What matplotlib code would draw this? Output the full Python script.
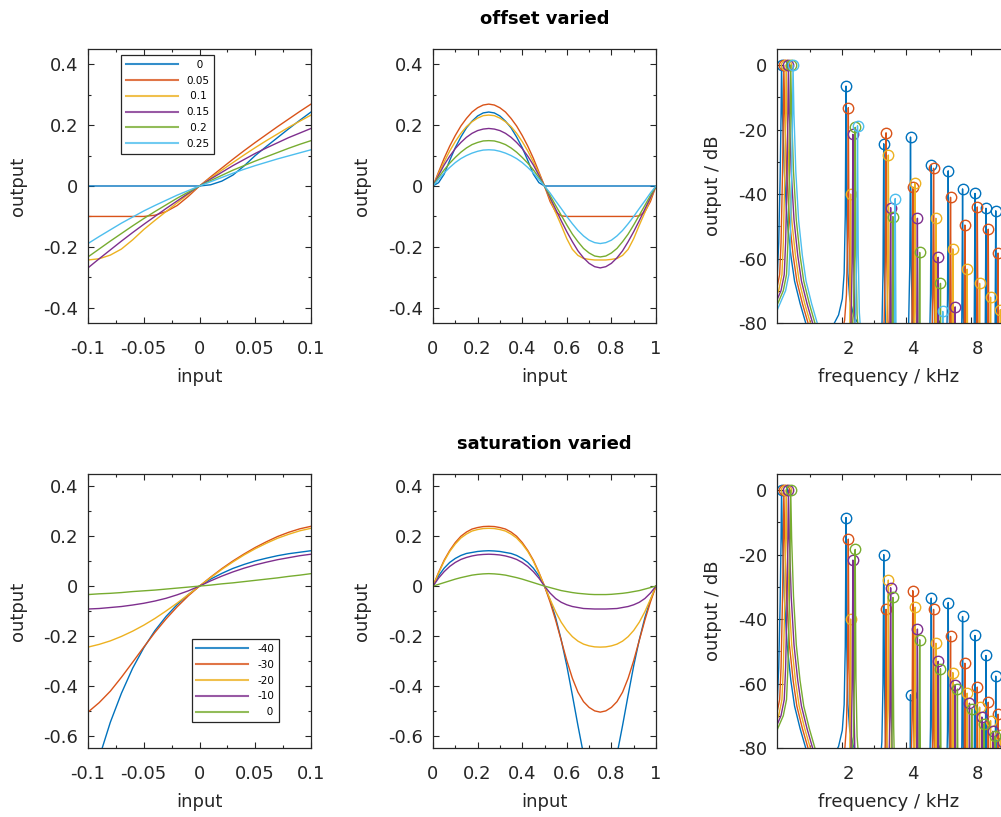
import numpy as np
import matplotlib.pyplot as plt
import matplotlib.transforms as mtransforms
from matplotlib.ticker import MultipleLocator, FixedLocator, NullFormatter, FuncFormatter

plt.rcParams['font.family'] = ['DejaVu Sans']
plt.rcParams['axes.unicode_minus'] = False

colors = ['#0072BD', '#D95319', '#EDB120', '#7E2F8E', '#77AC30', '#4DBEEE']

# transfer curves (input -> output)
x_in = [-0.10, -0.09, -0.08, -0.07, -0.06, -0.05, -0.04, -0.03, -0.02, -0.01, 0.0,
        0.01, 0.02, 0.03, 0.04, 0.05, 0.06, 0.07, 0.08, 0.09, 0.10]
# one period of the test signal
t_in = [0.0, 0.025, 0.05, 0.075, 0.10, 0.125, 0.15, 0.175, 0.20, 0.225, 0.25,
        0.275, 0.30, 0.325, 0.35, 0.375, 0.40, 0.425, 0.45, 0.475, 0.50,
        0.525, 0.55, 0.575, 0.60, 0.625, 0.65, 0.675, 0.70, 0.725, 0.75,
        0.775, 0.80, 0.825, 0.85, 0.875, 0.90, 0.925, 0.95, 0.975, 1.0]

offset_labels = ['0', '0.05', '0.1', '0.15', '0.2', '0.25']
offset_curves = [
    [0, 0, 0, 0, 0, 0, 0, 0, 0, 0, 0, 0.004, 0.016, 0.036, 0.066, 0.100, 0.130, 0.159, 0.188, 0.216, 0.243],
    [-0.1, -0.1, -0.1, -0.1, -0.1, -0.1, -0.096, -0.084, -0.064, -0.034, 0, 0.030, 0.059, 0.088, 0.116, 0.143, 0.169, 0.195, 0.220, 0.245, 0.269],
    [-0.243, -0.239, -0.227, -0.207, -0.177, -0.143, -0.113, -0.084, -0.055, -0.027, 0, 0.026, 0.052, 0.077, 0.102, 0.126, 0.149, 0.171, 0.193, 0.213, 0.233],
    [-0.269, -0.239, -0.210, -0.181, -0.153, -0.126, -0.100, -0.074, -0.049, -0.024, 0, 0.023, 0.045, 0.067, 0.087, 0.107, 0.125, 0.142, 0.159, 0.174, 0.189],
    [-0.233, -0.207, -0.181, -0.156, -0.131, -0.107, -0.084, -0.062, -0.040, -0.020, 0, 0.018, 0.035, 0.052, 0.067, 0.082, 0.096, 0.110, 0.124, 0.137, 0.149],
    [-0.189, -0.166, -0.144, -0.122, -0.102, -0.082, -0.064, -0.047, -0.030, -0.015, 0, 0.014, 0.028, 0.042, 0.055, 0.067, 0.078, 0.089, 0.099, 0.109, 0.119],
]
offset_waves = [
    [0, 0.011, 0.039, 0.084, 0.126, 0.161, 0.191, 0.213, 0.230, 0.240, 0.243, 0.240, 0.230, 0.213, 0.191, 0.161, 0.126, 0.084, 0.039, 0.011, 0,
     0, 0, 0, 0, 0, 0, 0, 0, 0, 0, 0, 0, 0, 0, 0, 0, 0, 0, 0, 0],
    [0, 0.046, 0.091, 0.131, 0.166, 0.197, 0.222, 0.243, 0.257, 0.266, 0.269, 0.266, 0.257, 0.243, 0.222, 0.197, 0.166, 0.131, 0.091, 0.046, 0,
     -0.051, -0.085, -0.098, -0.1, -0.1, -0.1, -0.1, -0.1, -0.1, -0.1, -0.1, -0.1, -0.1, -0.1, -0.1, -0.1, -0.098, -0.085, -0.051, 0],
    [0, 0.041, 0.079, 0.115, 0.146, 0.173, 0.195, 0.211, 0.223, 0.231, 0.233, 0.231, 0.223, 0.211, 0.195, 0.173, 0.146, 0.115, 0.079, 0.041, 0,
     -0.043, -0.087, -0.129, -0.173, -0.208, -0.228, -0.238, -0.241, -0.243, -0.243, -0.243, -0.241, -0.238, -0.228, -0.208, -0.173, -0.129, -0.087, -0.043, 0],
    [0, 0.035, 0.069, 0.098, 0.123, 0.143, 0.160, 0.173, 0.182, 0.187, 0.189, 0.187, 0.182, 0.173, 0.160, 0.143, 0.123, 0.098, 0.069, 0.035, 0,
     -0.038, -0.076, -0.114, -0.150, -0.183, -0.213, -0.236, -0.254, -0.265, -0.269, -0.265, -0.254, -0.236, -0.213, -0.183, -0.150, -0.114, -0.076, -0.038, 0],
    [0, 0.028, 0.053, 0.075, 0.094, 0.111, 0.125, 0.136, 0.143, 0.148, 0.149, 0.148, 0.143, 0.136, 0.125, 0.111, 0.094, 0.075, 0.053, 0.028, 0,
     -0.031, -0.064, -0.096, -0.128, -0.158, -0.183, -0.205, -0.220, -0.230, -0.233, -0.230, -0.220, -0.205, -0.183, -0.158, -0.128, -0.096, -0.064, -0.031, 0],
    [0, 0.022, 0.043, 0.061, 0.077, 0.090, 0.100, 0.108, 0.114, 0.118, 0.119, 0.118, 0.114, 0.108, 0.100, 0.090, 0.077, 0.061, 0.043, 0.022, 0,
     -0.023, -0.049, -0.074, -0.100, -0.124, -0.146, -0.164, -0.178, -0.186, -0.189, -0.186, -0.178, -0.164, -0.146, -0.124, -0.100, -0.074, -0.049, -0.023, 0],
]

sat_labels = ['-40', '-30', '-20', '-10', '0']
sat_curves = [
    [-0.858, -0.689, -0.547, -0.430, -0.330, -0.248, -0.179, -0.122, -0.074, -0.034, 0, 0.028, 0.051, 0.071, 0.087, 0.101, 0.112, 0.122, 0.130, 0.136, 0.142],
    [-0.506, -0.468, -0.422, -0.366, -0.306, -0.245, -0.186, -0.132, -0.083, -0.039, 0, 0.036, 0.070, 0.101, 0.129, 0.155, 0.178, 0.199, 0.216, 0.230, 0.240],
    [-0.245, -0.234, -0.220, -0.202, -0.181, -0.157, -0.130, -0.100, -0.068, -0.034, 0, 0.034, 0.067, 0.097, 0.125, 0.150, 0.172, 0.192, 0.208, 0.222, 0.232],
    [-0.092, -0.090, -0.086, -0.082, -0.076, -0.069, -0.060, -0.049, -0.035, -0.019, 0, 0.021, 0.040, 0.057, 0.072, 0.085, 0.096, 0.106, 0.114, 0.122, 0.128],
    [-0.034, -0.031, -0.029, -0.026, -0.022, -0.019, -0.016, -0.012, -0.008, -0.004, 0, 0.004, 0.009, 0.013, 0.018, 0.023, 0.028, 0.033, 0.039, 0.044, 0.050],
]
sat_waves = [
    [0, 0.041, 0.072, 0.095, 0.111, 0.123, 0.131, 0.135, 0.139, 0.141, 0.142, 0.141, 0.139, 0.135, 0.131, 0.123, 0.111, 0.095, 0.072, 0.041, 0,
     -0.056, -0.127, -0.216, -0.320, -0.438, -0.560, -0.676, -0.775, -0.838, -0.858, -0.838, -0.775, -0.676, -0.560, -0.438, -0.320, -0.216, -0.127, -0.056, 0],
    [0, 0.055, 0.104, 0.143, 0.175, 0.200, 0.217, 0.229, 0.235, 0.239, 0.240, 0.239, 0.235, 0.229, 0.217, 0.200, 0.175, 0.143, 0.104, 0.055, 0,
     -0.064, -0.137, -0.218, -0.299, -0.370, -0.426, -0.464, -0.487, -0.501, -0.506, -0.501, -0.487, -0.464, -0.426, -0.370, -0.299, -0.218, -0.137, -0.064, 0],
    [0, 0.052, 0.100, 0.139, 0.169, 0.193, 0.209, 0.221, 0.227, 0.231, 0.232, 0.231, 0.227, 0.221, 0.209, 0.193, 0.169, 0.139, 0.100, 0.052, 0,
     -0.053, -0.103, -0.145, -0.178, -0.203, -0.221, -0.233, -0.240, -0.244, -0.245, -0.244, -0.240, -0.233, -0.221, -0.203, -0.178, -0.145, -0.103, -0.053, 0],
    [0, 0.032, 0.058, 0.079, 0.095, 0.107, 0.115, 0.121, 0.125, 0.127, 0.128, 0.127, 0.125, 0.121, 0.115, 0.107, 0.095, 0.079, 0.058, 0.032, 0,
     -0.028, -0.050, -0.065, -0.075, -0.082, -0.086, -0.090, -0.091, -0.092, -0.092, -0.092, -0.091, -0.090, -0.086, -0.082, -0.075, -0.065, -0.050, -0.028, 0],
    [0, 0.007, 0.014, 0.021, 0.028, 0.034, 0.039, 0.044, 0.047, 0.049, 0.050, 0.049, 0.047, 0.044, 0.039, 0.034, 0.028, 0.021, 0.014, 0.007, 0,
     -0.006, -0.012, -0.018, -0.022, -0.026, -0.029, -0.031, -0.033, -0.034, -0.034, -0.034, -0.033, -0.031, -0.029, -0.026, -0.022, -0.018, -0.012, -0.006, 0],
]

# harmonic levels in dB (harmonics 1..10), one row per curve
f0 = 1.0465  # kHz
harmonics = [1, 2, 3, 4, 5, 6, 7, 8, 9, 10]
offset_spec = [
    [0, -6.5, -24.4, -22.3, -31.0, -32.8, -38.4, -39.8, -44.4, -45.2],
    [0, -13.2, -21.0, -37.8, -32.0, -41.0, -49.6, -44.0, -50.9, -58.3],
    [0, -40.0, -27.9, -36.6, -47.5, -57.0, -63.3, -67.7, -72.0, -75.9],
    [0, -21.5, -44.2, -47.5, -59.6, -75.0, -88.0, -92.0, -95.0, -98.0],
    [0, -19.3, -47.0, -58.1, -67.7, -84.0, -90.0, -95.0, -98.0, -100.0],
    [0, -18.8, -41.4, -86.0, -76.4, -88.0, -95.0, -98.0, -100.0, -100.0],
]
sat_spec = [
    [0, -8.5, -20.0, -63.5, -33.5, -34.9, -39.2, -45.1, -51.3, -57.7],
    [0, -15.2, -37.0, -31.2, -37.0, -45.4, -53.7, -61.1, -65.8, -69.5],
    [0, -40.0, -27.9, -36.3, -47.5, -56.6, -63.0, -67.3, -71.5, -76.0],
    [0, -21.7, -30.3, -43.1, -53.1, -60.4, -66.1, -70.4, -74.8, -78.0],
    [0, -18.4, -33.3, -46.4, -55.4, -61.7, -67.9, -72.4, -76.4, -80.5],
]

# spectral peak shape: log-frequency distance from peak vs. level relative to peak
fund_lobe_d = [-0.30, -0.17, -0.08, -0.045, -0.03, -0.015, -0.005, 0, 0.01, 0.03, 0.06, 0.10, 0.14, 0.20, 0.26, 0.34]
fund_lobe_db = [-82, -76, -70, -65, -55, -35, -15, 0, -15, -33, -48, -59, -67, -74, -80, -86]
harm_lobe_d = [-0.30, -0.17, -0.08, -0.04, -0.02, -0.008, -0.003, 0, 0.003, 0.008, 0.02, 0.04, 0.08, 0.17, 0.30]
harm_lobe_db = [-82, -76, -71, -66, -58, -40, -15, 0, -15, -40, -58, -66, -71, -76, -82]

W, H = 1001, 817
fig = plt.figure(figsize=(W / 100, H / 100), dpi=100)
dark = '#262626'
fmt = FuncFormatter(lambda v, p: '%g' % round(v, 6))


def add_axes(left, top, width=223, height=274):
    return fig.add_axes([left / W, 1 - (top + height) / H, width / W, height / H])


def style(ax):
    for s in ax.spines.values():
        s.set_color(dark)
        s.set_linewidth(0.9)
    ax.tick_params(which='both', direction='in', top=True, right=True,
                   colors=dark, labelsize=13, width=0.8)
    ax.tick_params(which='major', length=4)
    ax.tick_params(which='minor', length=2.5)
    ax.tick_params(axis='x', pad=12)
    ax.tick_params(axis='y', pad=7)
    ax.xaxis.label.set_color(dark)
    ax.yaxis.label.set_color(dark)


rows = [
    (49, 'offset varied', offset_labels, offset_curves, offset_waves, offset_spec,
     (-0.45, 0.45), (0.148, 0.978), ['   0', '0.05', ' 0.1', '0.15', ' 0.2', '0.25']),
    (474, 'saturation varied', sat_labels, sat_curves, sat_waves, sat_spec,
     (-0.65, 0.45), (0.465, 0.397), ['-40', '-30', '-20', '-10', '   0']),
]

for top, title, labels, curves, waves, spec, ylim, leg_pos, leg_text in rows:
    ax1 = add_axes(88, top)
    ax2 = add_axes(433, top)
    # spectrum axes runs past the right edge of the figure
    ax3 = add_axes(777.3, top, width=226)

    # transfer curves
    lines = []
    for i, ys in enumerate(curves):
        ln, = ax1.plot(x_in, ys, color=colors[i], lw=1.0, label=labels[i])
        lines.append(ln)
    ax1.set_xlim(-0.1, 0.1)
    ax1.set_ylim(*ylim)
    ax1.xaxis.set_major_locator(MultipleLocator(0.05))
    ax1.xaxis.set_minor_locator(MultipleLocator(0.025))
    ax1.yaxis.set_major_locator(MultipleLocator(0.2))
    ax1.yaxis.set_minor_locator(MultipleLocator(0.1))
    ax1.xaxis.set_major_formatter(fmt)
    ax1.yaxis.set_major_formatter(fmt)
    leg = ax1.legend(lines, leg_text, loc='upper left', bbox_to_anchor=leg_pos,
                     borderaxespad=0, fontsize=7.5, handlelength=5.0,
                     handletextpad=0.85, borderpad=0.45, labelspacing=0.56,
                     fancybox=False, framealpha=1, edgecolor=dark)
    leg.get_frame().set_linewidth(0.9)
    for hl in leg.get_lines():
        hl.set_linewidth(1.5)
        hl.set_alpha(0.8)

    # output waveform over one period
    for i, ys in enumerate(waves):
        ax2.plot(t_in, ys, color=colors[i], lw=1.0)
    ax2.set_xlim(0, 1)
    ax2.set_ylim(*ylim)
    ax2.xaxis.set_major_locator(MultipleLocator(0.2))
    ax2.xaxis.set_minor_locator(MultipleLocator(0.1))
    ax2.yaxis.set_major_locator(MultipleLocator(0.2))
    ax2.yaxis.set_minor_locator(MultipleLocator(0.1))
    ax2.xaxis.set_major_formatter(fmt)
    ax2.yaxis.set_major_formatter(fmt)

    # spectra
    for i, levels in enumerate(spec):
        shift = 1.025 ** i
        peaks = [k * f0 * shift for k in harmonics]
        for fk, lev, k in zip(peaks, levels, harmonics):
            if k == 1:
                d, db = fund_lobe_d, fund_lobe_db
            else:
                d, db = harm_lobe_d, harm_lobe_db
            ax3.plot(fk * np.exp(d), lev + np.array(db), color=colors[i], lw=1.0)
        ax3.plot(peaks, levels, 'o', ls='none', mfc='none', mec=colors[i], ms=7.5, mew=1.0)
    ax3.set_xscale('log')
    ax3.set_xlim(1, 11.35)
    ax3.set_ylim(-80, 5)
    ax3.xaxis.set_major_locator(FixedLocator([2, 4, 8]))
    ax3.xaxis.set_major_formatter(FuncFormatter(lambda v, p: '%g' % v))
    ax3.xaxis.set_minor_locator(FixedLocator([2 ** 0.5, 2 ** 1.5, 2 ** 2.5]))
    ax3.xaxis.set_minor_formatter(NullFormatter())
    ax3.yaxis.set_major_locator(MultipleLocator(20))
    ax3.yaxis.set_minor_locator(MultipleLocator(10))
    ax3.yaxis.set_major_formatter(fmt)

    for ax in (ax1, ax2, ax3):
        style(ax)
    ax3.tick_params(which='both', right=False)
    shift_lbl = mtransforms.ScaledTranslation(7 / 100, 0, fig.dpi_scale_trans)
    for lbl in ax3.get_xticklabels():
        lbl.set_transform(lbl.get_transform() + shift_lbl)

    ax1.set_xlabel('input', fontsize=13, va='top')
    ax2.set_xlabel('input', fontsize=13, va='top')
    ax3.set_xlabel('frequency / kHz', fontsize=13, va='top')
    ax1.set_ylabel('output', fontsize=13)
    ax2.set_ylabel('output', fontsize=13)
    ax3.set_ylabel('output / dB', fontsize=13)
    ax1.xaxis.set_label_coords(0.5, -0.164)
    ax2.xaxis.set_label_coords(0.5, -0.164)
    ax3.xaxis.set_label_coords(111.5 / 226, -0.164)
    ax1.yaxis.set_label_coords(-0.275, 0.5)
    ax2.yaxis.set_label_coords(-0.279, 0.5)
    ax3.yaxis.set_label_coords(-55.6 / 226, 0.5)

    fig.text(544.5 / W, 1 - (top - 30) / H, title, fontsize=13, fontweight='bold',
             ha='center', va='center', color='black')

fig.savefig('out.png', dpi=100)
